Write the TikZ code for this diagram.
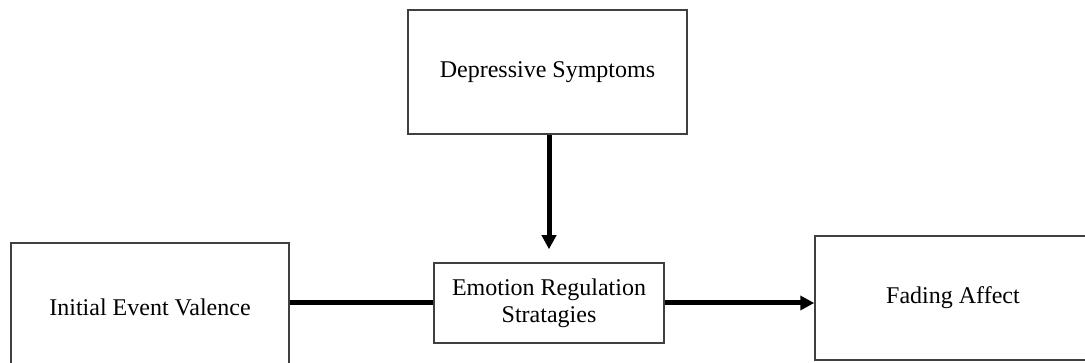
\documentclass[tikz,border=0pt]{standalone}
\usepackage{fontspec}
\setmainfont{Liberation Serif}
\usetikzlibrary{arrows.meta}
\begin{document}
\begin{tikzpicture}[x=1pt,y=-1pt,font=\fontsize{24}{27}\selectfont,
    box/.style={draw=black!75,line width=1.5pt,fill=white,inner sep=0pt,
                align=center,minimum width=#1},
    link/.style={line width=5pt},
    head/.style={link,-{Triangle[length=14pt,width=14pt]}}]
  \path[use as bounding box] (0,0) rectangle (1085,363);
  \node[box=279pt,minimum height=124pt] (ds)  at (547.5,72) {Depressive Symptoms};
  \node[box=278pt,minimum height=129pt] (iev) at (150,307.5) {Initial Event Valence};
  \node[box=230pt,minimum height=80pt]  (ers) at (549,303) {Emotion Regulation\\Stratagies};
  \node[box=284pt,minimum height=124pt] (fa)  at (957,298) {\hspace*{-8pt}Fading Affect};
  \draw[head,shorten >=13pt] (ds.south -| ers.north) -- (ers.north);
  \draw[link] (iev.east |- ers.west) -- (ers.west);
  \draw[head] (ers.east) -- (fa.west |- ers.east);
\end{tikzpicture}
\end{document}
